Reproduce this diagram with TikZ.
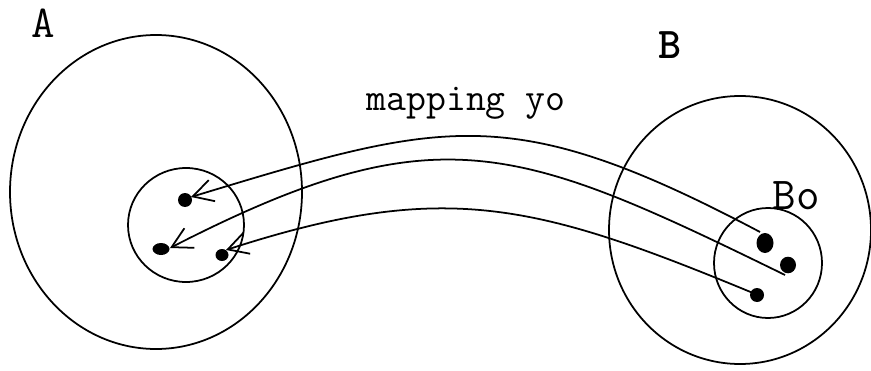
\documentclass[tikz,border=0pt]{standalone}
\usetikzlibrary{arrows.meta}
\begin{document}
\begin{tikzpicture}[x=0.02cm,y=-0.02cm,line width=1pt,
  map/.style={-{Straight Barb[length=4mm,width=4.4mm]}},
  lbl/.style={font=\ttfamily\fontsize{26}{26}\selectfont}]
\useasboundingbox (0,0) rectangle (871,371);
% 两个集合及其子集
\coordinate (A) at (156,192);
\coordinate (Asub) at (186,225);
\coordinate (B) at (740,230);
\coordinate (Bo) at (768,263);
% 子集中的点
\coordinate (pa1) at (185,200);
\coordinate (pa2) at (161,249);
\coordinate (pa3) at (222,255);
\coordinate (pb1) at (765,243);
\coordinate (pb2) at (788,265);
\coordinate (pb3) at (757,295);
% 映射曲线的端点
\coordinate (a1) at (191,197);
\coordinate (a2) at (170,248);
\coordinate (a3) at (226,250);
\coordinate (b1) at (760,232);
\coordinate (b2) at (785,275);
\coordinate (b3) at (753,293);
\draw (A) ellipse [x radius=146, y radius=157];
\draw (Asub) ellipse [x radius=58, y radius=57];
\draw (B) ellipse [x radius=131, y radius=134];
\draw (Bo) ellipse [x radius=54, y radius=55];
\node[lbl] (labA) at (43,23) {A};
\node[lbl,font=\ttfamily\bfseries\fontsize{25}{25}\selectfont] (labB) at (670,45) {B};
\node[lbl] (labBo) at (796,196) {Bo};
\node[font=\ttfamily\fontsize{22}{22}\selectfont] (labmap) at (466,103) {mapping yo};
\fill (pa1) ellipse [x radius=7, y radius=7];
\fill (pa2) ellipse [x radius=8.5, y radius=6];
\fill (pa3) ellipse [x radius=6.5, y radius=6];
\fill (pb1) ellipse [x radius=8.5, y radius=10];
\fill (pb2) ellipse [x radius=8, y radius=8.3];
\fill (pb3) ellipse [x radius=7, y radius=7];
% 映射
\draw[map] (b1) .. controls (510,100) and (445,120) .. (a1);
\draw[map] (b2) .. controls (517,144) and (437,111) .. (a2);
\draw[map] (b3) .. controls (535,203) and (445,179) .. (a3);
\end{tikzpicture}
\end{document}
